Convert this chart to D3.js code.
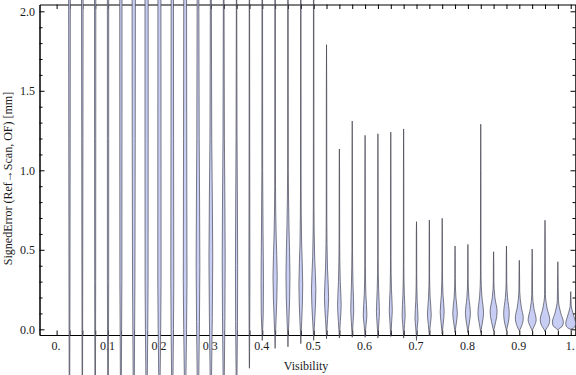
<!DOCTYPE html>
<html>
<head>
<meta charset="utf-8">
<script src="https://cdn.jsdelivr.net/npm/d3@7"></script>
<style>
  html, body { margin: 0; padding: 0; background: #fff; }
  svg { display: block; }
  text { font-family: "Liberation Serif", "Times New Roman", serif; }
</style>
</head>
<body>
<script>
// ---------------- DATA ----------------
const visibility = [0.025,0.05,0.075,0.1,0.125,0.15,0.175,0.2,0.225,0.25,
  0.275,0.3,0.325,0.35,0.375,0.4,0.425,0.45,0.475,0.5,
  0.525,0.55,0.575,0.6,0.625,0.65,0.675,0.7,0.725,0.75,
  0.775,0.8,0.825,0.85,0.875,0.9,0.925,0.95,0.975,1.0];

// lowest / highest signed error of each bin [mm]
const errMin = [-0.9,-0.9,-0.9,-0.9,-0.9,-0.9,-0.9,-0.9,-0.9,-0.9,
  -0.8,-0.7,-0.6,-0.5,-0.245,-0.07,-0.12,-0.11,-0.09,-0.07,
  -0.06,-0.055,-0.05,-0.05,-0.055,-0.045,-0.055,-0.07,-0.04,-0.03,
  -0.02,-0.02,-0.02,-0.01,-0.01,-0.01,-0.01,-0.015,-0.005,0.0];
const errMax = [2.6,2.6,2.6,2.6,2.6,2.6,2.6,2.6,2.6,2.6,
  2.6,2.6,2.6,2.6,2.6,2.6,2.6,2.6,2.6,2.5,
  1.79,1.134,1.31,1.22,1.23,1.24,1.26,0.677,0.687,0.698,
  0.524,0.534,1.29,0.488,0.524,0.434,0.505,0.686,0.425,0.237];

// density profile of each bin: [signed error, relative density]
const densityProfiles = [
  [[-0.3,0.3],[0.3,0.5],[1.2,0.7],[2.1,0.85]],
  [[-0.3,0.25],[0.3,0.4],[1.2,0.6],[2.1,0.8]],
  [[-0.3,0.3],[0.3,0.5],[1.2,0.6],[2.1,0.65]],
  [[-0.3,0.35],[0.3,0.65],[1.2,0.65],[2.1,0.65]],
  [[-0.3,0.5],[0.3,1.0],[1.2,1.1],[2.1,1.15]],
  [[-0.3,0.6],[0.3,1.2],[1.2,1.5],[2.1,1.65]],
  [[-0.3,0.7],[0.3,1.5],[1.2,1.6],[2.1,1.6]],
  [[-0.3,0.7],[0.3,1.65],[1.2,1.6],[2.1,1.5]],
  [[-0.3,0.7],[0.3,1.5],[1.2,1.3],[2.1,1.15]],
  [[-0.3,0.8],[0.3,1.85],[1.2,1.6],[2.1,1.4]],
  [[-0.3,0.8],[0.4,1.85],[1.2,1.2],[2.1,0.85]],
  [[-0.3,0.7],[0.45,1.9],[1.2,0.9],[2.1,0.5]],
  [[-0.3,0.6],[0.45,1.5],[1.2,0.7],[2.1,0.35]],
  [[-0.3,0.45],[0.4,1.1],[1.2,0.5],[2.1,0.2]],
  [[-0.2,0.15],[0.3,0.5],[1.2,0.3],[2.1,0.2]],
  [[-0.03,0.2],[0.1,1.0],[0.3,1.2],[0.6,0.8],[1.0,0.4],[2.1,0.3]],
  [[-0.06,0.2],[0.05,0.9],[0.33,2.1],[0.6,1.0],[0.9,0.4],[2.1,0.25]],
  [[-0.05,0.2],[0.05,0.9],[0.33,2.0],[0.65,1.0],[1.0,0.35],[2.1,0.25]],
  [[-0.04,0.2],[0.05,0.9],[0.28,1.9],[0.55,0.8],[0.9,0.3],[2.1,0.2]],
  [[-0.03,0.25],[0.05,1.0],[0.25,2.2],[0.45,1.0],[0.8,0.3],[2.1,0.2]],
  [[-0.02,0.25],[0.06,1.0],[0.2,2.1],[0.38,1.0],[0.7,0.3],[1.5,0.2]],
  [[-0.02,0.3],[0.05,1.0],[0.15,1.8],[0.3,0.9],[0.55,0.3],[1.0,0.2]],
  [[-0.02,0.3],[0.05,0.9],[0.12,1.5],[0.28,0.8],[0.5,0.3],[1.1,0.2]],
  [[-0.02,0.3],[0.03,1.0],[0.09,1.8],[0.22,0.8],[0.4,0.3],[1.0,0.2]],
  [[-0.02,0.3],[0.04,0.9],[0.11,1.5],[0.25,0.7],[0.45,0.25],[1.0,0.2]],
  [[-0.02,0.3],[0.05,0.9],[0.12,1.5],[0.25,0.7],[0.45,0.25],[1.0,0.2]],
  [[-0.02,0.3],[0.03,0.9],[0.09,1.5],[0.22,0.7],[0.4,0.25],[1.0,0.2]],
  [[-0.03,0.3],[0.02,0.9],[0.07,1.5],[0.18,0.7],[0.35,0.25],[0.6,0.2]],
  [[-0.02,0.3],[0.03,1.0],[0.09,1.9],[0.2,0.8],[0.35,0.25],[0.6,0.2]],
  [[-0.01,0.3],[0.04,1.1],[0.11,2.0],[0.22,0.8],[0.38,0.25],[0.6,0.2]],
  [[0.0,0.4],[0.04,1.3],[0.1,2.3],[0.2,0.9],[0.32,0.25],[0.45,0.2]],
  [[0.0,0.4],[0.04,1.4],[0.1,2.5],[0.2,1.0],[0.32,0.25],[0.45,0.2]],
  [[0.0,0.5],[0.04,1.6],[0.1,2.8],[0.21,1.1],[0.34,0.3],[1.0,0.2]],
  [[0.005,0.6],[0.05,2.2],[0.11,3.5],[0.2,1.3],[0.3,0.3],[0.42,0.2]],
  [[0.005,0.5],[0.04,1.8],[0.1,2.8],[0.2,1.1],[0.3,0.3],[0.45,0.2]],
  [[0.0,0.8],[0.03,2.8],[0.07,4.0],[0.14,2.0],[0.24,0.4],[0.38,0.2]],
  [[0.0,0.6],[0.025,2.5],[0.06,4.0],[0.13,1.8],[0.22,0.4],[0.42,0.2]],
  [[0.0,1.0],[0.025,3.5],[0.06,4.8],[0.13,2.2],[0.22,0.4],[0.6,0.2]],
  [[0.005,1.5],[0.02,4.5],[0.045,5.5],[0.1,3.0],[0.18,0.6],[0.35,0.2]],
  [[0.004,1.5],[0.015,4.0],[0.035,5.0],[0.09,2.8],[0.15,0.5],[0.2,0.2]]
];

const xTickValues = [0,0.025,0.05,0.075,0.1,0.125,0.15,0.175,0.2,0.225,0.25,
  0.275,0.3,0.325,0.35,0.375,0.4,0.425,0.45,0.475,0.5,
  0.525,0.55,0.575,0.6,0.625,0.65,0.675,0.7,0.725,0.75,
  0.775,0.8,0.825,0.85,0.875,0.9,0.925,0.95,0.975,1.0];
const xTickLabels = {"0":"0.","0.1":"0.1","0.2":"0.2","0.3":"0.3","0.4":"0.4","0.5":"0.5",
  "0.6":"0.6","0.7":"0.7","0.8":"0.8","0.9":"0.9","1":"1."};
const yMajorTicks = [0.0,0.5,1.0,1.5,2.0];
const yMajorLabels = ["0.0","0.5","1.0","1.5","2.0"];
const yMinorTicks = [0.1,0.2,0.3,0.4,0.6,0.7,0.8,0.9,1.1,1.2,1.3,1.4,1.6,1.7,1.8,1.9];

const xTitle = "Visibility";
const yTitle = "SignedError (Ref\u2192Scan, OF) [mm]";

// ---------------- CHART ----------------
(function () {
const W = 576, H = 375;
const pLeft = 39.5, pRight = 575.5, pTop = 4.5, pBottom = 335;

const svg = d3.select("body").append("svg").attr("width", W).attr("height", H);

const x = d3.scaleLinear().domain([-0.0333, 1.0093]).range([pLeft, pRight]);
const y = d3.scaleLinear().domain([-0.0358, 2.0428]).range([pBottom, pTop]);
const w = d3.scaleLinear().domain([0, 6]).range([0, 6]);

const fmtKey = v => String(+v.toFixed(3));

// bottom axis
const gB = svg.append("g").attr("transform", `translate(0,${pBottom})`)
  .call(d3.axisBottom(x).tickValues(xTickValues).tickSizeInner(-4.5).tickSizeOuter(0)
    .tickFormat(v => xTickLabels[fmtKey(v)] || ""));
gB.selectAll("text").attr("y", 15).attr("dy", 0).attr("dx", -1);
// top axis
svg.append("g").attr("transform", `translate(0,${pTop})`)
  .call(d3.axisTop(x).tickValues(xTickValues).tickSizeInner(-4.5).tickSizeOuter(0).tickFormat(""));
// left axis
const gL = svg.append("g").attr("transform", `translate(${pLeft},0)`)
  .call(d3.axisLeft(y).tickValues(yMajorTicks).tickSizeInner(-5).tickSizeOuter(0).tickPadding(4.5)
    .tickFormat((v,i) => yMajorLabels[i]));
gL.selectAll("text").attr("x", -4.5).attr("dy", "0.32em");
svg.append("g").attr("transform", `translate(${pLeft},0)`)
  .call(d3.axisLeft(y).tickValues(yMinorTicks).tickSizeInner(-3).tickSizeOuter(0).tickFormat(""));
// right axis
svg.append("g").attr("transform", `translate(${pRight},0)`)
  .call(d3.axisRight(y).tickValues(yMajorTicks).tickSizeInner(-5).tickSizeOuter(0).tickFormat(""));
svg.append("g").attr("transform", `translate(${pRight},0)`)
  .call(d3.axisRight(y).tickValues(yMinorTicks).tickSizeInner(-3).tickSizeOuter(0).tickFormat(""));

svg.selectAll(".domain").attr("stroke", "#000").attr("stroke-width", 1);
svg.selectAll(".tick line").attr("stroke", "#000").attr("stroke-width", 1);
svg.selectAll(".tick text").attr("font-family", "Liberation Serif, Times New Roman, serif")
  .attr("font-size", 12).attr("fill", "#1a1a1a");

// titles
svg.append("text").attr("x", 306).attr("y", 370).attr("text-anchor", "middle")
  .attr("font-size", 12).attr("fill", "#1a1a1a").text(xTitle);
svg.append("text").attr("transform", "translate(11.5,178.5) rotate(-90)")
  .attr("text-anchor", "middle").attr("font-size", 12).attr("fill", "#1a1a1a").text(yTitle);

// violins
const gV = svg.append("g");
visibility.forEach((v, i) => {
  const cx = x(v);
  const pts = [[errMin[i], 0], ...densityProfiles[i], [errMax[i], 0]].slice().reverse();
  const area = d3.area()
    .curve(d3.curveMonotoneY)
    .y(d => y(d[0]))
    .x0(d => cx - w(d[1]))
    .x1(d => cx + w(d[1]));
  gV.append("path")
    .attr("d", area(pts))
    .attr("fill", "#c8cef3")
    .attr("stroke", "#3a3a46")
    .attr("stroke-opacity", 0.65)
    .attr("stroke-width", 1)
    .attr("stroke-linejoin", "round");
});
})();
</script>
</body>
</html>
